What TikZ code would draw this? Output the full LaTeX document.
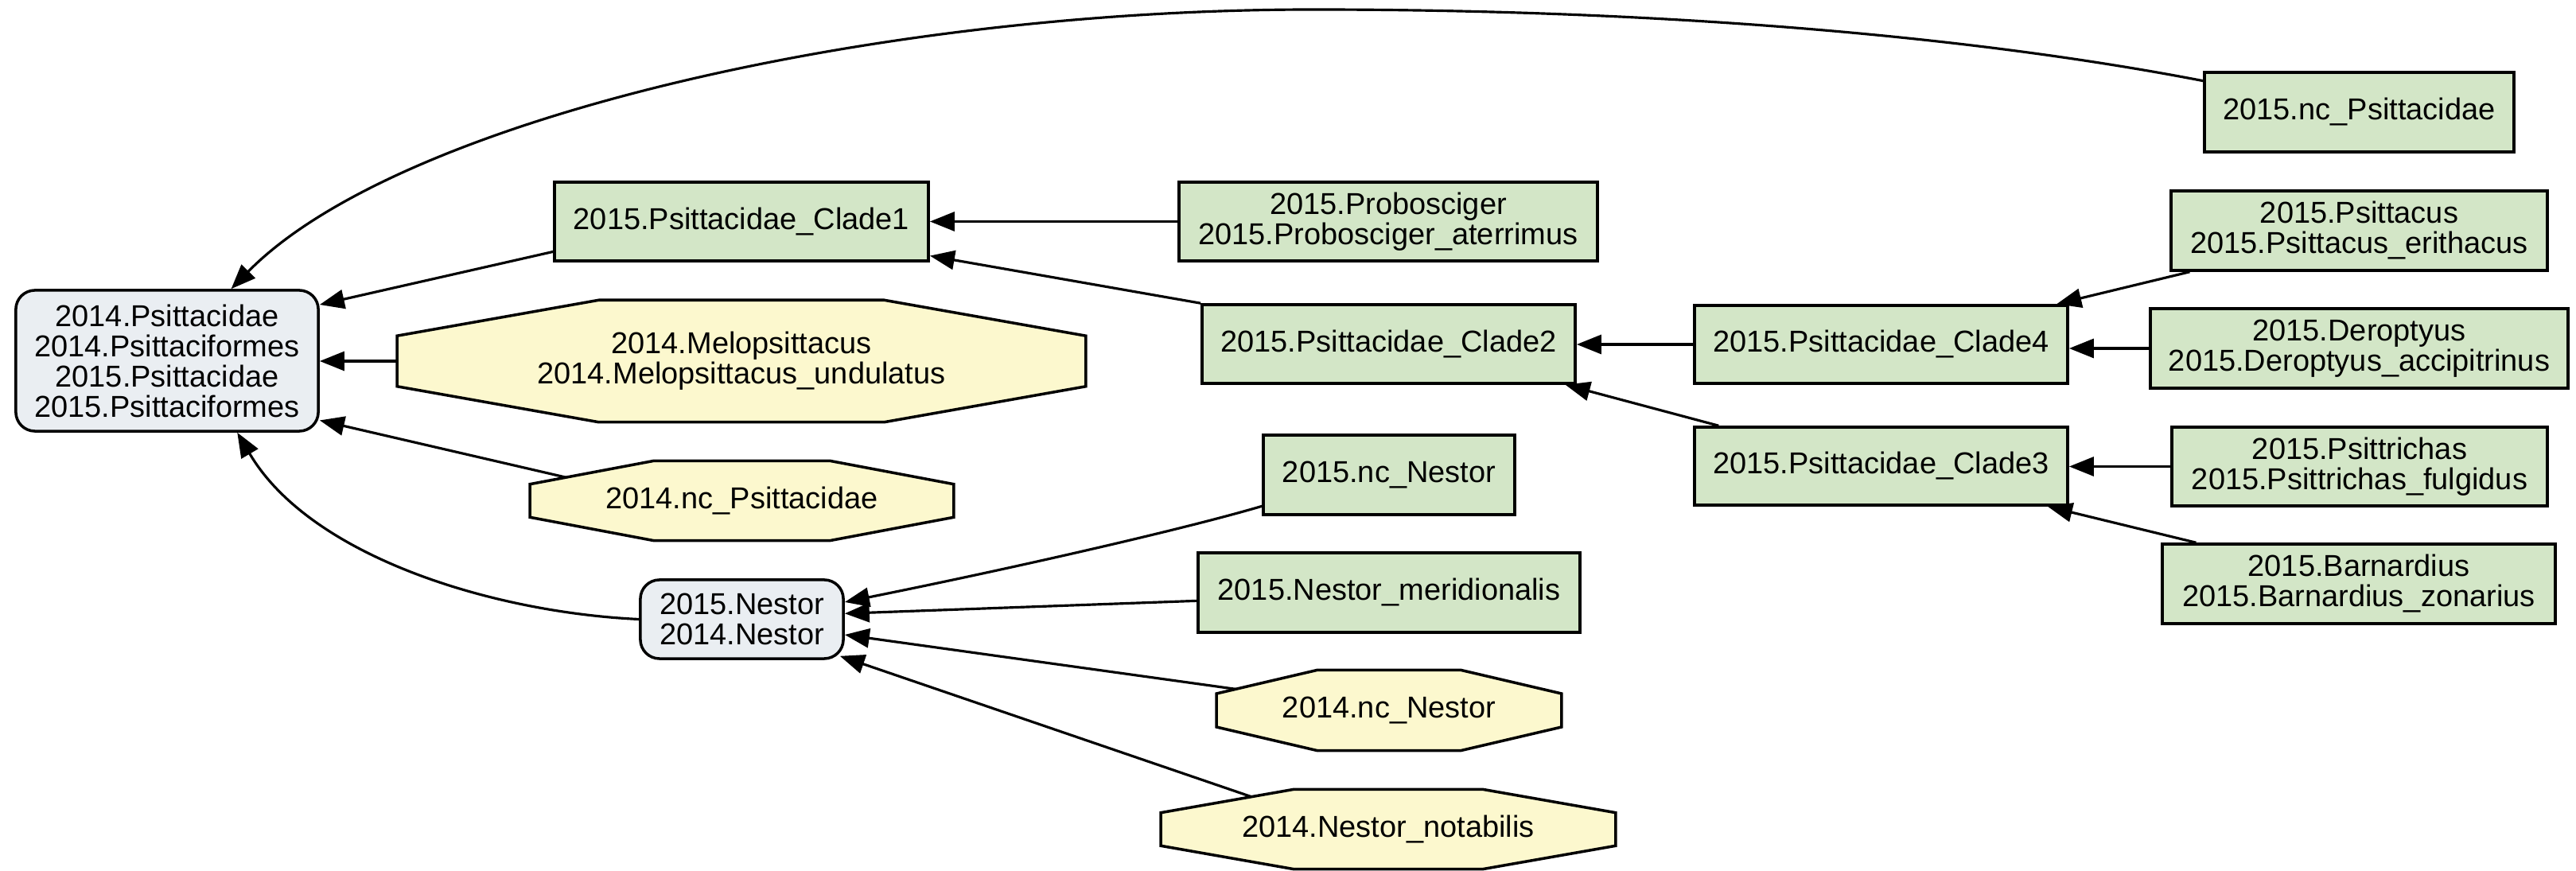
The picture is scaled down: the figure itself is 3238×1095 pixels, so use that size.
\documentclass[tikz,border=0pt]{standalone}
\usepackage{fontspec}
\setmainfont{Liberation Sans}
\usetikzlibrary{arrows.meta,calc,backgrounds}
\definecolor{gfill}{RGB}{211,230,199}
\definecolor{yfill}{RGB}{252,248,206}
\definecolor{bfill}{RGB}{234,238,242}
\tikzset{
  base/.style={inner sep=2pt, align=center, font=\fontsize{10.8pt}{10.8pt}\selectfont},
  gbox/.style={base, draw=black, line width=1pt, fill=gfill, rectangle},
  bbox/.style={base, draw=black, line width=1pt, fill=bfill, rectangle, rounded corners=0.24cm},
  obox/.style={base, rectangle},
  octline/.style={draw=black, line width=1pt, fill=yfill},
  edge/.style={line width=0.9pt, -{Triangle[length=0.31cm,width=0.24cm]}},
}
\newcommand\octo[1]{%
  \path[octline]
    ($(#1.north west)!0.293!(#1.north east)$) coordinate (#1-A) --
    ($(#1.north east)!0.293!(#1.north west)$) coordinate (#1-B) --
    ($(#1.north east)!0.293!(#1.south east)$) coordinate (#1-C) --
    ($(#1.south east)!0.293!(#1.north east)$) coordinate (#1-D) --
    ($(#1.south east)!0.293!(#1.south west)$) coordinate (#1-E) --
    ($(#1.south west)!0.293!(#1.south east)$) coordinate (#1-F) --
    ($(#1.south west)!0.293!(#1.north west)$) coordinate (#1-G) --
    ($(#1.north west)!0.293!(#1.south west)$) coordinate (#1-H) -- cycle;}
\begin{document}
\begin{tikzpicture}[x=0.01cm, y=-0.01cm]
\useasboundingbox (0,0) rectangle (3238,1095);

% rank 0
\node[bbox, minimum width=3.80cm, minimum height=1.77cm] (root) at (210,453.5)
  {2014.Psittacidae\\2014.Psittaciformes\\2015.Psittacidae\\2015.Psittaciformes};
% rank 1
\node[gbox, minimum width=4.70cm, minimum height=0.99cm] (c1) at (932,278.5) {2015.Psittacidae\_Clade1};
\node[obox, minimum width=8.64cm, minimum height=1.52cm] (mel) at (932,454) {2014.Melopsittacus\\2014.Melopsittacus\_undulatus};
\node[obox, minimum width=5.31cm, minimum height=0.99cm] (ncp14) at (932.5,629.5) {2014.nc\_Psittacidae};
\node[bbox, minimum width=2.55cm, minimum height=0.99cm] (nes) at (932.5,778.5) {2015.Nestor\\2014.Nestor};
% rank 2
\node[gbox, minimum width=5.26cm, minimum height=0.99cm] (prob) at (1745,278.5) {2015.Probosciger\\2015.Probosciger\_aterrimus};
\node[gbox, minimum width=4.69cm, minimum height=0.99cm] (c2) at (1745.5,432.5) {2015.Psittacidae\_Clade2};
\node[gbox, minimum width=3.16cm, minimum height=1.00cm] (ncn) at (1746,597) {2015.nc\_Nestor};
\node[gbox, minimum width=4.80cm, minimum height=1.00cm] (mer) at (1746,745) {2015.Nestor\_meridionalis};
\node[obox, minimum width=4.32cm, minimum height=1.00cm] (ncn14) at (1746,893) {2014.nc\_Nestor};
\node[obox, minimum width=5.70cm, minimum height=0.99cm] (not) at (1745,1042.5) {2014.Nestor\_notabilis};
% rank 3
\node[gbox, minimum width=4.69cm, minimum height=0.98cm] (c4) at (2364.5,433) {2015.Psittacidae\_Clade4};
\node[gbox, minimum width=4.69cm, minimum height=0.98cm] (c3) at (2364.5,586) {2015.Psittacidae\_Clade3};
% rank 4
\node[gbox, minimum width=3.89cm, minimum height=1.00cm] (ncp15) at (2965.5,141) {2015.nc\_Psittacidae};
\node[gbox, minimum width=4.73cm, minimum height=1.00cm] (psi) at (2965.5,290) {2015.Psittacus\\2015.Psittacus\_erithacus};
\node[gbox, minimum width=5.25cm, minimum height=1.00cm] (der) at (2965.5,438) {2015.Deroptyus\\2015.Deroptyus\_accipitrinus};
\node[gbox, minimum width=4.72cm, minimum height=0.99cm] (pst) at (2966,586.5) {2015.Psittrichas\\2015.Psittrichas\_fulgidus};
\node[gbox, minimum width=4.94cm, minimum height=1.00cm] (bar) at (2965,734) {2015.Barnardius\\2015.Barnardius\_zonarius};

\begin{scope}[on background layer]
  \fill[white] (0,0) rectangle (3238,1095);
  \octo{mel}
  \octo{ncp14}
  \octo{ncn14}
  \octo{not}
\end{scope}

% edges into root
\draw[edge] ($(ncp15.north west)!0.12!(ncp15.south west)$)
  .. controls (2450,40) and (2050,12) .. (1650,12)
  .. controls (1100,12) and (500,150) .. ($(root.north west)!0.71!(root.north east)$);
\draw[edge] ($(c1.south west)!0.13!(c1.north west)$) -- ($(root.north east)!0.11!(root.south east)$);
\draw[edge] (mel.west) -- (root.east |- mel.west);
\draw[edge] ($(ncp14-H)!0.29!(ncp14-A)$) -- ($(root.south east)!0.085!(root.north east)$);
\draw[edge] (nes.west) .. controls (620,770) and (390,700) .. ($(root.south west)!0.73!(root.south east)$);
% edges into Clade1
\draw[edge] (prob.west) -- (c1.east |- prob.west);
\draw[edge] (c2.north west) -- ($(c1.south east)!0.08!(c1.north east)$);
% edges into Clade2
\draw[edge] (c4.west) -- (c2.east |- c4.west);
\draw[edge] ($(c3.north west)!0.068!(c3.north east)$) -- ($(c2.south east)!0.03!(c2.south west)$);
% edges into Clade4
\draw[edge] ($(psi.south west)!0.053!(psi.south east)$) -- ($(c4.north east)!0.033!(c4.north west)$);
\draw[edge] (der.west) -- (c4.east |- der.west);
% edges into Clade3
\draw[edge] (pst.west) -- (c3.east |- pst.west);
\draw[edge] ($(bar.north west)!0.089!(bar.north east)$) -- ($(c3.south east)!0.057!(c3.south west)$);
% edges into Nestor
\draw[edge] ($(ncn.south west)!0.12!(ncn.north west)$) .. controls (1489,665) and (1280,713) .. ($(nes.north east)!0.29!(nes.south east)$);
\draw[edge] ($(mer.north west)!0.6!(mer.south west)$) -- ($(nes.north east)!0.43!(nes.south east)$);
\draw[edge] ($(ncn14-H)!0.19!(ncn14-A)$) -- ($(nes.north east)!0.69!(nes.south east)$);
\draw[edge] ($(not-H)!0.68!(not-A)$) -- ($(nes.south east)+(-6,-5)$);
\end{tikzpicture}
\end{document}
